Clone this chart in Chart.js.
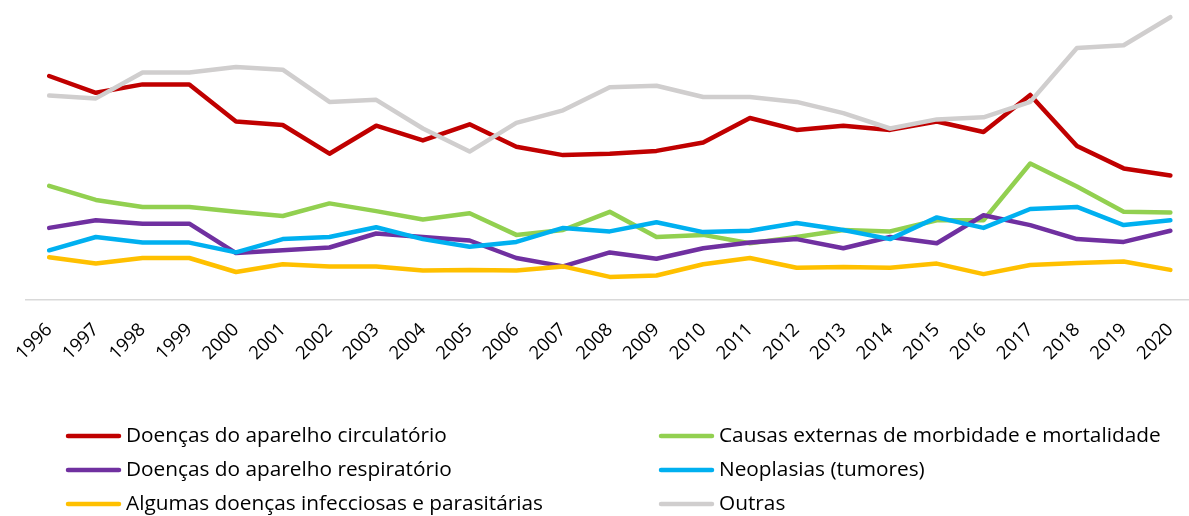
<!DOCTYPE html>
<html>
<head>
<meta charset="utf-8">
<script src="https://cdn.jsdelivr.net/npm/chart.js@4/dist/chart.umd.min.js"></script>
<style>
  html, body { margin: 0; padding: 0; background: #fff; overflow: hidden; }
  #wrap { width: 1189px; height: 516px; overflow: hidden; }
</style>
</head>
<body>
<div id="wrap"><canvas id="c" width="1205" height="516"></canvas></div>
<script>
const years = ['1996','1997','1998','1999','2000','2001','2002','2003','2004','2005','2006','2007','2008',
  '2009','2010','2011','2012','2013','2014','2015','2016','2017','2018','2019','2020'];

// values (no y scale shown, arbitrary units ~ %)
const circulatorio = [32.0,29.6,30.8,30.8,25.5,25.0,20.9,24.9,22.8,25.1,21.9,20.7,20.9,21.3,22.5,26.0,24.3,24.9,24.3,25.5,24.0,29.3,22.0,18.8,17.8];
const externas     = [16.3,14.3,13.3,13.3,12.6,12.0,13.8,12.7,11.5,12.4,9.3,10.0,12.6,9.0,9.3,8.1,9.0,10.0,9.8,11.4,11.4,19.5,16.2,12.6,12.5];
const respiratorio = [10.3,11.4,10.9,10.9,6.7,7.1,7.5,9.5,9.0,8.5,6.0,4.8,6.8,5.9,7.4,8.2,8.7,7.4,9.0,8.1,12.1,10.7,8.7,8.3,9.9];
const neoplasias   = [7.1,9.0,8.2,8.2,6.8,8.7,9.0,10.4,8.7,7.6,8.3,10.3,9.8,11.1,9.7,9.9,11.0,10.0,8.7,11.8,10.3,13.0,13.3,10.7,11.4];
const infecciosas  = [6.1,5.2,6.0,6.0,4.0,5.1,4.8,4.8,4.2,4.3,4.2,4.8,3.3,3.5,5.1,6.0,4.6,4.7,4.6,5.2,3.7,5.0,5.3,5.5,4.3];
const outras       = [29.2,28.8,32.5,32.5,33.3,32.9,28.3,28.6,24.5,21.2,25.3,27.1,30.4,30.6,29.0,29.0,28.3,26.7,24.5,25.8,26.1,28.3,36.0,36.4,40.4];

const seriesNames = [
  'Doenças do aparelho circulatório',
  'Causas externas de morbidade e mortalidade',
  'Doenças do aparelho respiratório',
  'Neoplasias (tumores)',
  'Algumas doenças infecciosas e parasitárias',
  'Outras'
];
const seriesData = [circulatorio, externas, respiratorio, neoplasias, infecciosas, outras];
const seriesColors = ['#C00000', '#92D050', '#7030A0', '#00B0F0', '#FFC000', '#D0CECE'];

const FONT = "'Open Sans', Lato, sans-serif";

// legend drawn in two columns, like the original
const legend2col = {
  id: 'legend2col',
  afterDraw(ch) {
    const c = ch.ctx;
    const colX = [66, 659];
    const rowY = [436, 470, 504];
    c.save();
    c.font = '20.8px ' + FONT;
    c.textBaseline = 'middle';
    c.fillStyle = '#000';
    c.lineCap = 'round';
    c.lineWidth = 4.5;
    ch.data.datasets.forEach((ds, i) => {
      const x = colX[i % 2], y = rowY[Math.floor(i / 2)];
      c.strokeStyle = ds.borderColor;
      c.beginPath(); c.moveTo(x + 2, y); c.lineTo(x + 53, y); c.stroke();
      c.fillText(ds.label, x + 60, y);
    });
    c.restore();
  }
};

new Chart(document.getElementById('c'), {
  type: 'line',
  plugins: [legend2col],
  data: {
    labels: years,
    datasets: seriesNames.map((name, i) => ({
      label: name,
      data: seriesData[i],
      borderColor: seriesColors[i],
      backgroundColor: seriesColors[i],
      borderWidth: 4.5,
      pointRadius: 0,
      tension: 0,
      fill: false,
      borderJoinStyle: 'round',
      borderCapStyle: 'round',
      order: seriesNames.length - i
    }))
  },
  options: {
    responsive: false,
    animation: false,
    layout: { padding: { left: 22, right: 0, top: 6, bottom: 0 } },
    scales: {
      x: {
        offset: true,
        grid: { display: false, drawTicks: false },
        border: { display: true, color: '#D9D9D9', width: 1.5 },
        ticks: {
          color: '#000',
          font: { family: FONT, size: 18.5 },
          minRotation: 45, maxRotation: 45,
          padding: 19,
          autoSkip: false
        },
        afterFit(scale) { scale.height = 216; }
      },
      y: {
        display: false,
        min: 0, max: 42
      }
    },
    plugins: { legend: { display: false }, tooltip: { enabled: false } }
  }
});
</script>
</body>
</html>
